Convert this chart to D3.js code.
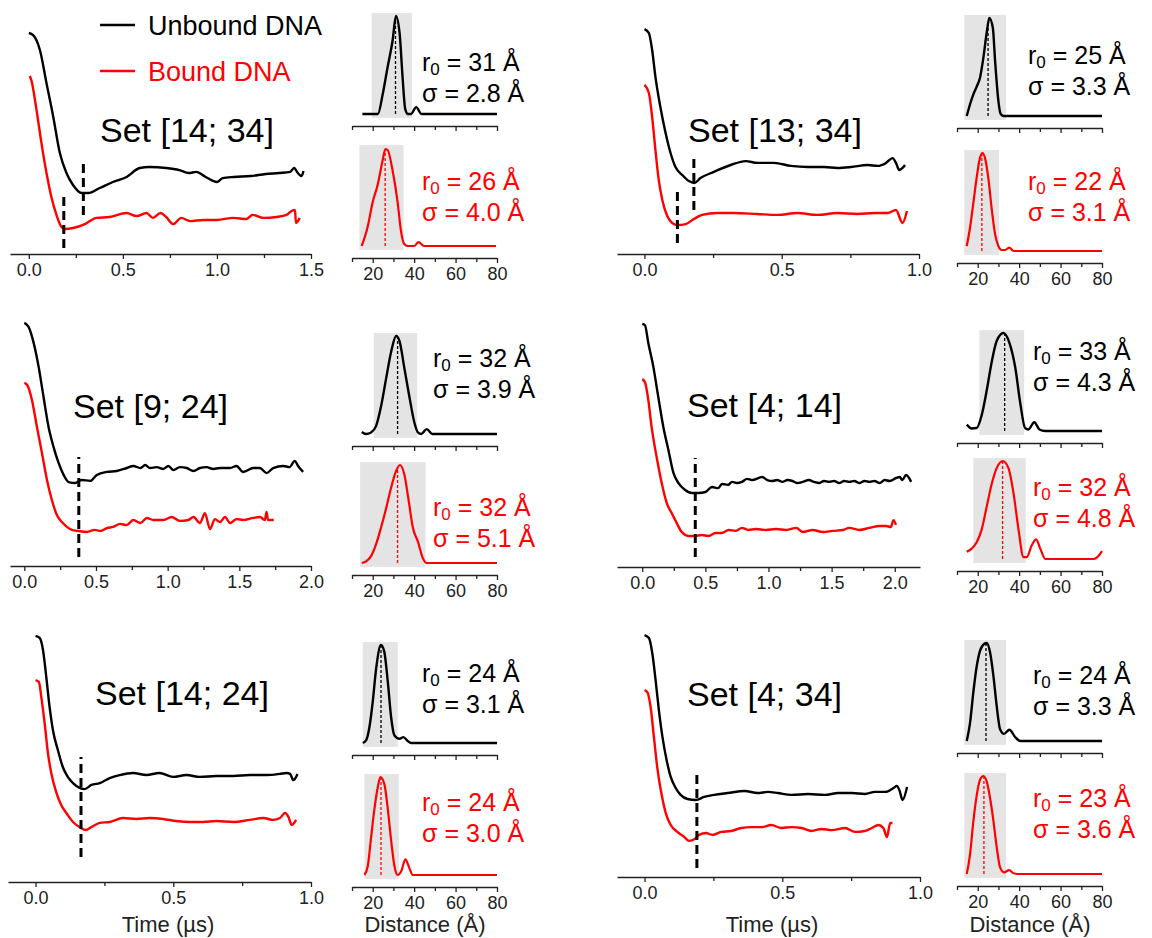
<!DOCTYPE html>
<html>
<head>
<meta charset="utf-8">
<script src="https://cdn.jsdelivr.net/npm/d3@7"></script>
<style>
  body { margin: 0; background: #fff; }
  svg { display: block; font-family: "Liberation Sans", Arial, sans-serif; }
</style>
</head>
<body>
<svg id="fig" width="1152" height="938"></svg>
<script>
// ---------- data ----------
const setLabels = ["Set [14; 34]", "Set [13; 34]", "Set [9; 24]", "Set [4; 14]", "Set [14; 24]", "Set [4; 34]"];
const seriesNames = ["Unbound DNA", "Bound DNA"];

// time traces: [time (µs), normalised signal]
const unboundA = [[0,.961],[.023,.952],[.059,.887],[.094,.743],[.13,.596],[.165,.439],[.2,.352],[.235,.300],[.28,.265],[.315,.265],[.377,.287],[.447,.313],[.52,.335],[.59,.374],[.64,.378],[.73,.374],[.80,.365],[.85,.352],[.89,.357],[.94,.335],[1.0,.313],[1.03,.330],[1.09,.335],[1.18,.339],[1.26,.348],[1.33,.352],[1.39,.357],[1.41,.374],[1.43,.352],[1.45,.339],[1.46,.361]];
const boundA = [[.005,.774],[.013,.757],[.041,.626],[.067,.483],[.094,.352],[.12,.248],[.147,.170],[.174,.117],[.19,.109],[.236,.113],[.298,.130],[.36,.157],[.43,.161],[.52,.178],[.573,.165],[.626,.178],[.66,.157],[.70,.178],[.73,.161],[.768,.130],[.81,.157],[.857,.143],[.927,.148],[1.0,.148],[1.087,.157],[1.157,.152],[1.19,.170],[1.246,.157],[1.317,.161],[1.37,.170],[1.397,.187],[1.415,.191],[1.42,.135],[1.44,.157]];

const unboundB = [[0,.978],[.016,.961],[.028,.887],[.04,.770],[.058,.639],[.077,.526],[.095,.439],[.113,.378],[.138,.343],[.162,.317],[.182,.309],[.204,.330],[.253,.357],[.314,.387],[.369,.404],[.411,.396],[.472,.396],[.533,.383],[.594,.378],[.654,.378],[.703,.374],[.752,.378],[.813,.387],[.85,.383],[.88,.396],[.904,.417],[.916,.396],[.928,.365],[.94,.374],[.949,.387]];
const boundB = [[0,.735],[.016,.700],[.028,.596],[.04,.452],[.052,.322],[.065,.235],[.083,.165],[.101,.135],[.122,.126],[.15,.130],[.18,.152],[.21,.170],[.265,.178],[.326,.178],[.41,.174],[.484,.170],[.557,.178],[.63,.170],[.703,.178],[.776,.174],[.837,.178],[.886,.178],[.916,.191],[.94,.135],[.956,.187]];

const unboundC = [[0,1.057],[.03,1.039],[.065,.970],[.10,.865],[.134,.735],[.169,.604],[.204,.517],[.239,.448],[.274,.396],[.309,.365],[.355,.361],[.40,.374],[.46,.370],[.506,.396],[.576,.409],[.645,.413],[.715,.426],[.76,.435],[.81,.426],[.843,.439],[.877,.426],[.924,.430],[.97,.422],[1.005,.435],[1.04,.417],[1.086,.430],[1.133,.426],[1.18,.413],[1.225,.426],[1.272,.430],[1.318,.422],[1.365,.426],[1.435,.426],[1.48,.435],[1.527,.409],[1.597,.426],[1.643,.426],[1.69,.404],[1.736,.426],[1.806,.435],[1.85,.430],[1.887,.457],[1.91,.435],[1.945,.409]];
const boundC = [[0,.796],[.02,.787],[.053,.722],[.088,.604],[.123,.491],[.158,.374],[.192,.287],[.227,.222],[.262,.191],[.297,.170],[.332,.157],[.378,.152],[.437,.148],[.49,.157],[.53,.152],[.576,.165],[.62,.170],[.668,.183],[.715,.178],[.76,.200],[.81,.187],[.855,.209],[.9,.200],[.97,.200],[1.028,.213],[1.086,.196],[1.144,.200],[1.18,.213],[1.225,.187],[1.26,.230],[1.295,.161],[1.33,.204],[1.365,.191],[1.4,.213],[1.435,.187],[1.48,.204],[1.527,.200],[1.597,.209],[1.643,.213],[1.678,.200],[1.69,.235],[1.7,.200],[1.74,.200]];

const unboundD = [[0,1.057],[.021,1.052],[.048,.974],[.088,.870],[.127,.739],[.167,.609],[.207,.509],[.247,.409],[.287,.365],[.34,.335],[.393,.322],[.446,.322],[.5,.326],[.552,.348],[.6,.343],[.632,.361],[.68,.357],[.711,.370],[.75,.365],[.79,.370],[.83,.383],[.87,.378],[.95,.391],[.99,.378],[1.03,.374],[1.07,.378],[1.11,.370],[1.15,.378],[1.19,.374],[1.23,.365],[1.27,.370],[1.32,.378],[1.36,.370],[1.40,.365],[1.44,.374],[1.48,.370],[1.52,.374],[1.56,.365],[1.60,.374],[1.64,.370],[1.68,.374],[1.72,.365],[1.76,.374],[1.8,.370],[1.84,.374],[1.88,.365],[1.92,.378],[1.96,.374],[2.01,.387],[2.04,.391],[2.06,.378],[2.09,.400],[2.13,.370]];
const boundD = [[0,.817],[.021,.804],[.048,.726],[.074,.609],[.114,.478],[.154,.365],[.194,.278],[.233,.235],[.273,.191],[.313,.152],[.366,.135],[.42,.135],[.47,.139],[.525,.135],[.58,.148],[.63,.148],[.685,.161],[.738,.157],[.79,.170],[.84,.161],[.90,.165],[.98,.161],[1.06,.165],[1.14,.161],[1.22,.170],[1.27,.152],[1.35,.161],[1.43,.152],[1.51,.157],[1.59,.161],[1.64,.170],[1.72,.161],[1.8,.170],[1.88,.178],[1.93,.178],[1.97,.174],[1.99,.204],[2.01,.183]];

const unboundE = [[0,1.070],[.015,1.061],[.027,1.009],[.039,.891],[.051,.761],[.063,.661],[.081,.574],[.099,.500],[.117,.457],[.136,.430],[.16,.409],[.178,.404],[.203,.422],[.233,.430],[.269,.452],[.305,.465],[.354,.474],[.402,.465],[.45,.474],[.499,.457],[.548,.465],[.596,.457],[.657,.461],[.718,.461],[.778,.465],[.839,.465],[.887,.470],[.912,.474],[.924,.470],[.936,.443],[.951,.470]];
const boundE = [[0,.878],[.012,.870],[.021,.804],[.033,.691],[.045,.561],[.057,.474],[.075,.391],[.093,.335],[.112,.300],[.136,.261],[.16,.239],[.182,.226],[.203,.239],[.233,.257],[.269,.261],[.317,.278],[.366,.274],[.414,.278],[.463,.274],[.511,.265],[.56,.261],[.608,.261],[.657,.265],[.718,.261],[.778,.270],[.827,.278],[.863,.270],[.887,.278],[.906,.300],[.918,.283],[.93,.248],[.946,.270]];

const unboundF = [[0,1.052],[.016,1.039],[.028,.974],[.04,.857],[.052,.726],[.065,.609],[.08,.509],[.095,.435],[.113,.387],[.131,.357],[.156,.339],[.186,.335],[.216,.348],[.253,.357],[.302,.365],[.363,.374],[.411,.365],[.448,.370],[.484,.365],[.533,.357],[.594,.361],[.654,.357],[.703,.365],[.752,.365],[.8,.361],[.837,.370],[.874,.370],[.904,.387],[.916,.396],[.925,.378],[.937,.335],[.953,.391]];
const boundF = [[0,.813],[.01,.804],[.022,.739],[.034,.609],[.046,.478],[.061,.365],[.077,.278],[.095,.226],[.119,.196],[.144,.174],[.162,.157],[.182,.165],[.198,.183],[.223,.191],[.247,.183],[.278,.196],[.314,.200],[.351,.213],[.387,.217],[.424,.217],[.46,.226],[.497,.213],[.533,.217],[.57,.213],[.606,.200],[.643,.209],[.679,.204],[.728,.213],[.764,.196],[.8,.200],[.825,.213],[.849,.226],[.867,.213],[.88,.174],[.892,.235],[.9,.235]];

// dashed time markers: [time, lower signal, upper signal]
const markersA = [[.29,.17,.409],[.186,.026,.257]];
const markersB = [[.18,.191,.435],[.12,.048,.287]];
const markersC = [[.38,.039,.474]];
const markersD = [[.42,.043,.474]];
const markersE = [[.165,.109,.543]];
const markersF = [[.19,.039,.465]];

// distance distributions: [distance (Å), normalised P(r)]
const distUnboundA = [[15,0],[22.5,0],[24.8,.2],[27.2,.48],[29.6,.75],[31.2,1],[33,.82],[34.4,.38],[35.7,.05],[37,0],[38.5,0],[41,.07],[43.5,0],[80,0]];
const distBoundA = [[14.7,0],[17.6,.2],[20,.45],[22.4,.625],[24.8,.875],[26.1,.99],[27.2,.98],[29.6,.77],[32,.45],[33.6,.16],[35.2,.02],[36.8,0],[40,0],[42.1,.04],[44.8,0],[79.5,0]];
const distUnboundB = [[14.7,0],[16.3,.12],[17.9,.22],[19.5,.3],[21.1,.39],[22.7,.59],[24.4,.86],[25.6,1],[27.3,.9],[28.4,.56],[30,.15],[31.1,.02],[32.4,0],[80,0]];
const distBoundB = [[14.7,.05],[16.3,.24],[17.9,.49],[19.5,.75],[21.1,.95],[22.3,1],[23.5,.95],[25.2,.73],[26.8,.42],[28.4,.17],[30,.05],[31.6,.01],[33.2,.01],[35.2,.035],[37.3,0],[80,0]];
const distUnboundC = [[14.7,.02],[16.8,0],[19.2,.016],[21.6,.08],[24,.28],[26.5,.57],[28.9,.84],[31.3,1],[32.9,.95],[35.3,.67],[37.7,.38],[40.2,.11],[41.8,.016],[43.4,0],[46.1,.05],[48.7,0],[80,0]];
const distBoundC = [[14.7,0],[16.8,.017],[19.2,.07],[21.6,.19],[24,.36],[26.5,.56],[28.9,.77],[31.3,.94],[33.2,1],[35.3,.9],[37.4,.63],[39.4,.36],[41.8,.22],[44.2,.05],[46.1,0],[80,0]];
const distUnboundD = [[14.7,.065],[17.1,.026],[19.5,.03],[21.9,.16],[24.4,.42],[26.8,.71],[29.2,.92],[32.4,1],[35.3,.9],[38.1,.65],[40.5,.29],[42.9,.03],[44.5,.016],[47.3,.09],[49.8,.016],[52.6,0],[80,0]];
const distBoundD = [[14.7,.073],[17.1,.106],[19.5,.17],[21.9,.3],[24.4,.54],[26.8,.77],[29.2,.93],[32.1,1],[34.8,.93],[37.3,.67],[39.7,.3],[42.1,.02],[43.7,.02],[46.1,.14],[48.2,.2],[50.2,.106],[52.6,0],[76,0],[78.4,.033],[80,.08]];
const distUnboundE = [[15.2,0],[16.8,.026],[18.4,.16],[20,.42],[21.6,.75],[24,1],[25.6,.93],[27.3,.62],[28.9,.26],[30.5,.076],[32.9,.043],[34.8,.06],[36.9,.02],[38.5,0],[80,0]];
const distBoundE = [[16,0],[17.6,.09],[19.2,.38],[20.8,.67],[22.4,.89],[23.7,1],[25.6,.93],[27.3,.67],[28.9,.35],[30.5,.09],[32.1,0],[33.7,.036],[35.8,.16],[37.7,.07],[39.4,0],[80,0]];
const distUnboundF = [[14.7,0],[16.3,.185],[17.9,.5],[19.5,.76],[21.1,.92],[23.1,.99],[24.4,1],[26,.9],[27.6,.66],[29.2,.35],[30.8,.12],[32.7,.073],[35.3,.115],[38.1,.04],[40.5,0],[80,0]];
const distBoundF = [[14.7,0],[16.3,.2],[17.9,.54],[19.5,.8],[21.1,.96],[22.7,1],[24.4,.94],[26,.77],[27.6,.54],[29.2,.27],[30.8,.067],[32.7,.017],[35.2,.04],[37.3,.007],[39.7,0],[80,0]];

// shaded distance windows [from, to] (Å)
const windowUnbound = [[19.5,38.9],[13.5,33.7],[20.5,41.5],[20.8,42.4],[15.2,32.1],[13.5,33.7]];
const windowBound = [[13.6,34.9],[13.5,30.3],[13.9,45.5],[17.9,43.2],[16,32.6],[13.5,33.7]];

// fitted mean distance and width (Å)
const r0Unbound = [31, 25, 32, 33, 24, 24];
const sigmaUnbound = [2.8, 3.3, 3.9, 4.3, 3.1, 3.3];
const r0Bound = [26, 22, 32, 32, 24, 23];
const sigmaBound = [4.0, 3.1, 5.1, 4.8, 3.0, 3.6];

// axis ticks
const distMajorTicks = [20, 40, 60, 80];
const distMinorTicks = [10, 30, 50, 70];
const timeMajorShort = [0, 0.5, 1.0];
const timeMinorShort = [0.25, 0.75];
const timeMajorA = [0, 0.5, 1.0, 1.5];
const timeMinorA = [0.25, 0.75, 1.25];
const timeMajorLong = [0, 0.5, 1.0, 1.5, 2.0];
const timeMinorLong = [0.25, 0.75, 1.25, 1.75];

// ---------- layout ----------
const unboundSeries = [unboundA, unboundB, unboundC, unboundD, unboundE, unboundF];
const boundSeries = [boundA, boundB, boundC, boundD, boundE, boundF];
const markerSets = [markersA, markersB, markersC, markersD, markersE, markersF];
const distUnbound = [distUnboundA, distUnboundB, distUnboundC, distUnboundD, distUnboundE, distUnboundF];
const distBound = [distBoundA, distBoundB, distBoundC, distBoundD, distBoundE, distBoundF];

const panels = [
  { tDom: [-0.1, 1.5], tRange: [10, 311],  axisY: 254, major: timeMajorA,     minor: timeMinorA,     dRange: [352, 497],  dAxes: [126, 258], textX: 422,  tb: [71, 102],  tr: [190, 221], title: [100, 142] },
  { tDom: [-0.1, 1.0], tRange: [617, 919], axisY: 254, major: timeMajorShort, minor: timeMinorShort, dRange: [957, 1102], dAxes: [128, 263], textX: 1028, tb: [64, 95],   tr: [190, 221], title: [688, 142] },
  { tDom: [-0.1, 2.0], tRange: [10, 311],  axisY: 566, major: timeMajorLong,  minor: timeMinorLong,  dRange: [352, 497],  dAxes: [446, 575], textX: 433,  tb: [367, 398], tr: [516, 547], title: [73, 418] },
  { tDom: [-0.2, 2.2], tRange: [617, 920], axisY: 567, major: timeMajorLong,  minor: timeMinorLong,  dRange: [957, 1102], dAxes: [443, 571], textX: 1033, tb: [360, 391], tr: [496, 527], title: [687, 417] },
  { tDom: [-0.1, 1.0], tRange: [8, 311],   axisY: 882, major: timeMajorShort, minor: timeMinorShort, dRange: [352, 497],  dAxes: [755, 887], textX: 422,  tb: [682, 713], tr: [811, 842], title: [95, 705] },
  { tDom: [-0.1, 1.0], tRange: [617, 920], axisY: 877, major: timeMajorShort, minor: timeMinorShort, dRange: [957, 1102], dAxes: [753, 886], textX: 1033, tb: [684, 715], tr: [807, 838], title: [687, 706] }
];

const BLACK = "#000000";
const RED = "#ff0000";
const AXIS = "#222222";

const svg = d3.select("#fig");

function styleAxis(g) {
  g.selectAll("path.domain").attr("stroke", AXIS).attr("stroke-width", 1.3);
  g.selectAll(".tick line").attr("stroke", AXIS).attr("stroke-width", 1.3);
  g.selectAll(".tick text").attr("fill", AXIS).attr("font-size", 18)
    .attr("font-family", "'Liberation Sans', Arial, sans-serif");
}

function drawAxis(y, scale, major, minor, fmt, showLabels) {
  const gMinor = svg.append("g").attr("transform", `translate(0,${y})`)
    .call(d3.axisBottom(scale).tickValues(minor).tickFormat("").tickSize(4).tickSizeOuter(0));
  gMinor.select("path.domain").remove();
  styleAxis(gMinor);
  const gMajor = svg.append("g").attr("transform", `translate(0,${y})`)
    .call(d3.axisBottom(scale).tickValues(major).tickSize(5).tickSizeOuter(0).tickPadding(4)
      .tickFormat(showLabels ? fmt : ""));
  styleAxis(gMajor);
}

function valueAt(data, r) {
  for (let i = 1; i < data.length; i++) {
    if (r <= data[i][0]) {
      const [x0, y0] = data[i - 1], [x1, y1] = data[i];
      return y0 + (y1 - y0) * (r - x0) / (x1 - x0);
    }
  }
  return data[data.length - 1][1];
}

// two-line fit annotation (r₀ and σ) drawn as one text block
function drawLabel(x, y, color, r0, sigma) {
  const t = svg.append("text").attr("font-size", 25).attr("fill", color);
  t.append("tspan").attr("x", x).attr("y", y[0]).text("r");
  t.append("tspan").attr("font-size", 17).attr("dy", 4).text("0");
  t.append("tspan").attr("dy", -4).text(" = " + r0 + " Å");
  t.append("tspan").attr("x", x).attr("y", y[1]).text("σ = " + sigma.toFixed(1) + " Å");
}

panels.forEach((p, i) => {
  // ---- time-domain traces ----
  const x = d3.scaleLinear().domain(p.tDom).range(p.tRange);
  const y = d3.scaleLinear().domain([0, 1]).range([p.axisY, p.axisY - 230]);
  drawAxis(p.axisY, x, p.major, p.minor, d3.format(".1f"), true);

  const line = d3.line().x(d => x(d[0])).y(d => y(d[1])).curve(d3.curveMonotoneX);
  svg.append("path").datum(unboundSeries[i]).attr("d", line)
    .attr("fill", "none").attr("stroke", BLACK).attr("stroke-width", 2.4).attr("stroke-linejoin", "round");
  svg.append("path").datum(boundSeries[i]).attr("d", line)
    .attr("fill", "none").attr("stroke", RED).attr("stroke-width", 2.4).attr("stroke-linejoin", "round");

  svg.selectAll(null).data(markerSets[i]).enter().append("line")
    .attr("x1", d => x(d[0])).attr("x2", d => x(d[0]))
    .attr("y1", d => y(d[1])).attr("y2", d => y(d[2]))
    .attr("stroke", BLACK).attr("stroke-width", 3).attr("stroke-dasharray", "9,5");

  svg.append("text").attr("x", p.title[0]).attr("y", p.title[1])
    .attr("font-size", 34).attr("fill", BLACK).text(setLabels[i]);

  // ---- distance distributions ----
  const xd = d3.scaleLinear().domain([10, 80]).range(p.dRange);
  const sub = [
    { axisY: p.dAxes[0], data: distUnbound[i], win: windowUnbound[i], r0: r0Unbound[i], sig: sigmaUnbound[i], color: BLACK, text: p.tb, width: 2.4, labels: false },
    { axisY: p.dAxes[1], data: distBound[i], win: windowBound[i], r0: r0Bound[i], sig: sigmaBound[i], color: RED, text: p.tr, width: 2.2, labels: true }
  ];
  sub.forEach(s => {
    const yd = d3.scaleLinear().domain([0, 1]).range([s.axisY - 12, s.axisY - 110]);
    svg.append("rect")
      .attr("x", xd(s.win[0])).attr("width", xd(s.win[1]) - xd(s.win[0]))
      .attr("y", yd(1.03)).attr("height", yd(-0.04) - yd(1.03))
      .attr("fill", "#e4e4e4");
    const dl = d3.line().x(d => xd(d[0])).y(d => yd(d[1])).curve(d3.curveMonotoneX);
    svg.append("path").datum(s.data).attr("d", dl)
      .attr("fill", "none").attr("stroke", s.color).attr("stroke-width", s.width).attr("stroke-linejoin", "round");
    svg.append("line")
      .attr("x1", xd(s.r0)).attr("x2", xd(s.r0))
      .attr("y1", yd(0)).attr("y2", yd(valueAt(s.data, s.r0)))
      .attr("stroke", s.color).attr("stroke-width", 1.3).attr("stroke-dasharray", "3,2");
    drawAxis(s.axisY, xd, distMajorTicks, distMinorTicks, d3.format("d"), s.labels);
    drawLabel(p.textX, s.text, s.color, s.r0, s.sig);
  });
});

// ---------- legend ----------
const legendColors = [BLACK, RED];
const legendY = [25, 71];
seriesNames.forEach((name, k) => {
  svg.append("line").attr("x1", 100).attr("x2", 135).attr("y1", legendY[k]).attr("y2", legendY[k])
    .attr("stroke", legendColors[k]).attr("stroke-width", 2.5);
  svg.append("text").attr("x", 148).attr("y", legendY[k] + 10).attr("font-size", 27)
    .attr("fill", legendColors[k]).text(name);
});

// ---------- axis titles ----------
[[168, "Time (µs)"], [772, "Time (µs)"], [425, "Distance (Å)"], [1030, "Distance (Å)"]].forEach(([cx, label]) => {
  svg.append("text").attr("x", cx).attr("y", 932).attr("text-anchor", "middle")
    .attr("font-size", 22).attr("fill", AXIS).text(label);
});
</script>
</body>
</html>
